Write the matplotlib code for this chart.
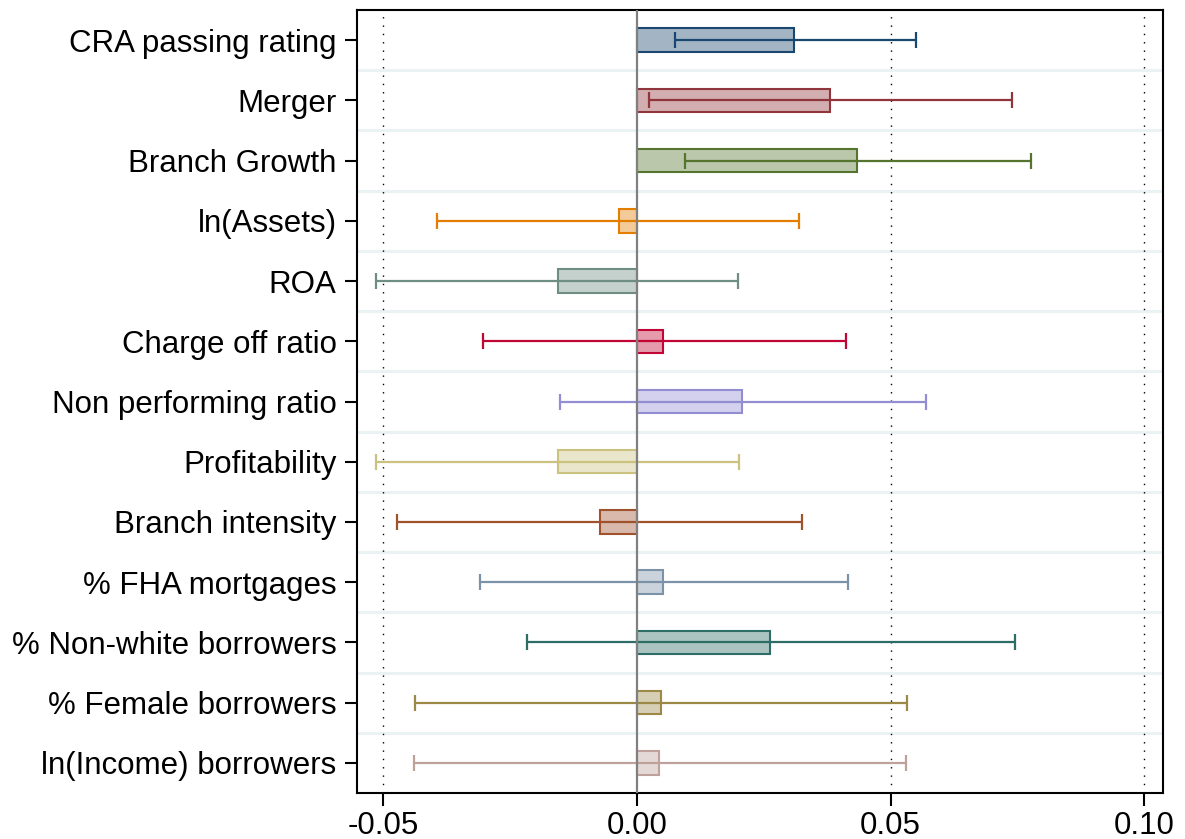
import matplotlib
matplotlib.use("Agg")
import matplotlib.pyplot as plt
import numpy as np

labels = ["CRA passing rating", "Merger", "Branch Growth", "ln(Assets)", "ROA",
          "Charge off ratio", "Non performing ratio", "Profitability",
          "Branch intensity", "% FHA mortgages", "% Non-white borrowers",
          "% Female borrowers", "ln(Income) borrowers"]
estimates = [0.0310, 0.0381, 0.0434, -0.0036, -0.0156, 0.0052, 0.0207, -0.0156,
             -0.0073, 0.0052, 0.0263, 0.0047, 0.0043]
ci_low = [0.0074, 0.0024, 0.0094, -0.0395, -0.0514, -0.0304, -0.0152, -0.0515,
          -0.0473, -0.0309, -0.0216, -0.0437, -0.0440]
ci_high = [0.0550, 0.0739, 0.0777, 0.0319, 0.0199, 0.0412, 0.0570, 0.0201,
           0.0325, 0.0416, 0.0746, 0.0533, 0.0531]
colors = ["#1a476f", "#90353b", "#55752f", "#e37e00", "#6e8e84", "#c10534",
          "#938dd2", "#cac27e", "#a0522d", "#7b92a8", "#2d6d66", "#9c8847",
          "#bfa19c"]
xticks = [-0.05, 0.00, 0.05, 0.10]
xtick_labels = ["-0.05", "0.00", "0.05", "0.10"]

plt.rcParams['font.family'] = ['Liberation Sans', 'DejaVu Sans']

fig = plt.figure(figsize=(11.85, 8.39), dpi=100)
ax = fig.add_axes([356.7 / 1185, 46 / 839, (1163.3 - 356.7) / 1185, 783 / 839])

n = len(labels)
ypos = np.arange(n)

# separators
for k in range(n - 1):
    ax.axhline(k + 0.5, color="#eaf2f3", lw=2.2, zorder=0.5)

# dotted reference lines
for xv in [-0.05, 0.05, 0.10]:
    ax.axvline(xv, color="black", lw=1.0, ls=(0, (1, 5)), zorder=0.6)

for i in range(n):
    c = colors[i]
    ax.barh(ypos[i], estimates[i], height=0.39, left=0, color=c, alpha=0.4,
            edgecolor="none", zorder=1)
    ax.barh(ypos[i], estimates[i], height=0.39, left=0, facecolor="none",
            edgecolor=c, lw=1.5, zorder=2)
    ax.errorbar(estimates[i], ypos[i],
                xerr=[[estimates[i] - ci_low[i]], [ci_high[i] - estimates[i]]],
                fmt="none", ecolor=c, elinewidth=1.6, capsize=5.8,
                capthick=1.6, zorder=3)

ax.axvline(0, color="#808080", lw=1.6, zorder=4)

ax.set_ylim(n - 0.5, -0.5)
ax.set_xlim(-0.05527, 0.10377)
ax.set_yticks(ypos)
ax.set_yticklabels(labels, fontsize=22.5)
ax.set_xticks(xticks)
ax.set_xticklabels(xtick_labels, fontsize=22.5)
ax.tick_params(axis="y", length=9, width=1.5, pad=5.5)
ax.tick_params(axis="x", length=9, width=1.5, pad=4)
for s in ax.spines.values():
    s.set_linewidth(1.5)
    s.set_color("black")

fig.savefig("out.png", dpi=100)
